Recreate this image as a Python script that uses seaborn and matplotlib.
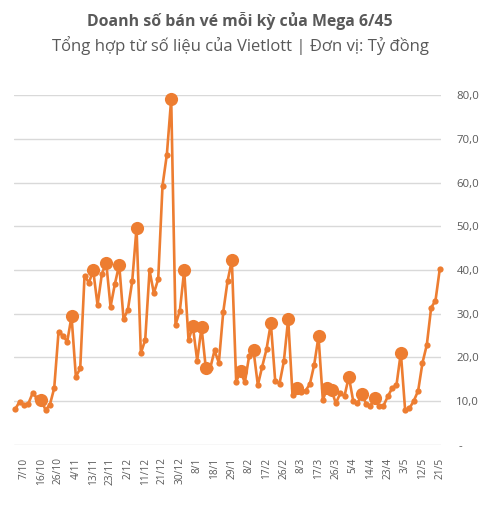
import numpy as np
import pandas as pd
import matplotlib.pyplot as plt
import seaborn as sns

# Doanh số bán vé mỗi kỳ (tỷ đồng), từ 2/10/2016 đến 21/5/2017
doanh_so = [8.2, 9.9, 9.2, 9.4, 11.8, 10.8, 10.3, 8.0, 9.2, 13.0,
            25.9, 25.0, 23.6, 29.4, 15.6, 17.5, 38.7, 37.1, 39.9, 32.0,
            39.1, 41.7, 31.6, 36.8, 41.2, 28.8, 30.9, 37.4, 49.6, 21.0,
            24.0, 39.9, 34.7, 37.9, 59.3, 66.4, 79.1, 27.5, 30.7, 39.9,
            24.0, 27.1, 19.3, 26.9, 17.5, 17.5, 21.6, 18.8, 30.3, 37.4,
            42.2, 14.5, 16.8, 14.3, 20.4, 21.6, 13.7, 17.9, 21.9, 27.8,
            14.7, 14.0, 19.1, 28.8, 11.4, 13.0, 12.2, 12.4, 13.9, 18.3,
            24.8, 10.3, 13.0, 12.6, 9.5, 11.8, 11.2, 15.6, 10.1, 9.5,
            11.6, 9.4, 9.0, 10.7, 8.8, 9.0, 11.1, 13.0, 13.7, 21.1,
            7.9, 8.4, 10.1, 12.4, 18.8, 22.9, 31.4, 33.0, 40.3]

# các kỳ được đánh dấu chấm lớn
ky_lon = [6, 13, 18, 21, 24, 28, 36, 39, 41, 43, 44, 50, 52, 55, 59, 63,
          65, 70, 72, 73, 77, 80, 83, 89]

# nhãn ngày, mỗi 4 kỳ một nhãn (bắt đầu từ kỳ thứ 3)
nhan_ngay = ['7/10', '16/10', '26/10', '4/11', '13/11', '23/11', '2/12',
             '11/12', '21/12', '30/12', '8/1', '18/1', '29/1', '8/2', '17/2',
             '26/2', '8/3', '17/3', '26/3', '5/4', '14/4', '23/4', '3/5',
             '12/5', '21/5']

y_ticks = [0, 10, 20, 30, 40, 50, 60, 70, 80]

df = pd.DataFrame({'ky': np.arange(len(doanh_so)), 'doanh_so': doanh_so})
df['lon'] = df['ky'].isin(ky_lon)

sns.set_style('white')
plt.rcParams['font.family'] = ['Open Sans', 'DejaVu Sans']

cam = '#ED7D31'
xam = '#595959'

fig = plt.figure(figsize=(4.8, 5.07), dpi=100)
ax = fig.add_axes([0.029, 0.1223, 0.890, 0.6903])

sns.lineplot(data=df, x='ky', y='doanh_so', color=cam, linewidth=1.9,
             marker='o', markersize=4.5, markeredgewidth=0, ax=ax, clip_on=False)
sns.scatterplot(data=df[df['lon']], x='ky', y='doanh_so', color=cam, s=90,
                linewidth=0, ax=ax, clip_on=False, zorder=4)

ax.set_xlim(-0.3, len(doanh_so) - 0.7)
ax.set_ylim(0, 80)

ax.set_yticks(y_ticks)
ax.set_yticklabels([' -' if v == 0 else f'{v:.1f}'.replace('.', ',') for v in y_ticks])
ax.yaxis.tick_right()
ax.tick_params(axis='y', length=0, pad=11, labelsize=8.2, labelcolor=xam)
for t in ax.get_yticklabels():
    t.set_horizontalalignment('left')
ax.grid(axis='y', color='#D9D9D9', linewidth=1)
ax.set_axisbelow(True)

ax.set_xticks(np.arange(2, len(doanh_so), 4))
ax.set_xticklabels(nhan_ngay, rotation=90)
ax.set_xticks(np.arange(len(doanh_so)), minor=True)
ax.tick_params(axis='x', which='both', length=3, color='#D9D9D9', width=0.8,
               labelsize=7.3, labelcolor=xam, pad=6)

for s in ax.spines.values():
    s.set_visible(False)
ax.set_xlabel('')
ax.set_ylabel('')

fig.text(0.5, 0.958, 'Doanh số bán vé mỗi kỳ của Mega 6/45', ha='center', va='center',
         fontsize=11.4, fontweight='bold', color=xam)
fig.text(0.5, 0.910, 'Tổng hợp từ số liệu của Vietlott | Đơn vị: Tỷ đồng', ha='center',
         va='center', fontsize=12, color=xam)

fig.savefig('out.png', dpi=100)
